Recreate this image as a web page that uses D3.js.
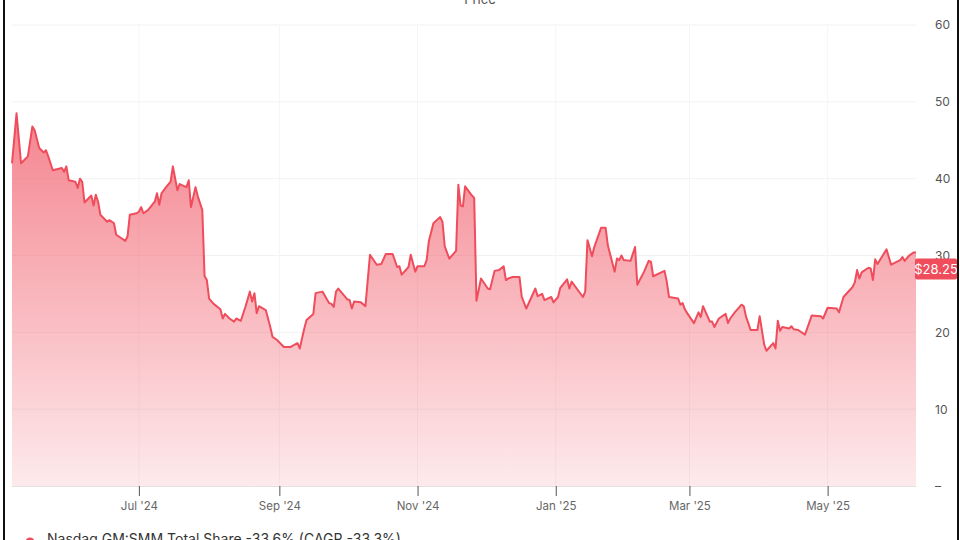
<!DOCTYPE html>
<html>
<head>
<meta charset="utf-8">
<script src="https://cdn.jsdelivr.net/npm/d3@7"></script>
<style>
  html, body { margin: 0; padding: 0; background: #fff; }
  svg { display: block; font-family: Inter, "Open Sans", sans-serif; }
</style>
</head>
<body>
<svg id="chart" width="960" height="540"></svg>
<script>
const dates = [
"2024-05-06","2024-05-08","2024-05-10","2024-05-13","2024-05-15","2024-05-16","2024-05-18","2024-05-20","2024-05-21","2024-05-22",
"2024-05-24","2024-05-28","2024-05-29","2024-05-30","2024-05-31","2024-06-03","2024-06-04","2024-06-05","2024-06-06","2024-06-07",
"2024-06-10","2024-06-11","2024-06-12","2024-06-13","2024-06-14","2024-06-17","2024-06-18","2024-06-20","2024-06-21","2024-06-25",
"2024-06-26","2024-06-27","2024-06-30","2024-07-01","2024-07-02","2024-07-03","2024-07-05","2024-07-08","2024-07-09","2024-07-10",
"2024-07-11","2024-07-13","2024-07-15","2024-07-16","2024-07-18","2024-07-19","2024-07-22","2024-07-23","2024-07-24","2024-07-26",
"2024-07-27","2024-07-29","2024-07-30","2024-07-31","2024-08-01","2024-08-03","2024-08-06","2024-08-07","2024-08-08","2024-08-10",
"2024-08-12","2024-08-13","2024-08-15","2024-08-17","2024-08-19","2024-08-20","2024-08-21","2024-08-22","2024-08-23","2024-08-26",
"2024-08-28","2024-08-29","2024-08-31","2024-09-03","2024-09-06","2024-09-09","2024-09-10","2024-09-12","2024-09-13","2024-09-16",
"2024-09-17","2024-09-20","2024-09-23","2024-09-24","2024-09-25","2024-09-26","2024-09-27","2024-10-01","2024-10-02","2024-10-03",
"2024-10-04","2024-10-07","2024-10-09","2024-10-11","2024-10-14","2024-10-16","2024-10-18","2024-10-21","2024-10-23","2024-10-24",
"2024-10-25","2024-10-28","2024-10-29","2024-10-31","2024-11-01","2024-11-04","2024-11-05","2024-11-06","2024-11-08","2024-11-11",
"2024-11-12","2024-11-13","2024-11-15","2024-11-18","2024-11-19","2024-11-20","2024-11-21","2024-11-22","2024-11-25","2024-11-26",
"2024-11-27","2024-11-29","2024-12-02","2024-12-03","2024-12-05","2024-12-07","2024-12-09","2024-12-10","2024-12-11","2024-12-13",
"2024-12-16","2024-12-17","2024-12-19","2024-12-21","2024-12-23","2024-12-24","2024-12-26","2024-12-27","2024-12-30","2024-12-31",
"2025-01-02","2025-01-03","2025-01-06","2025-01-07","2025-01-08","2025-01-13","2025-01-14","2025-01-15","2025-01-17","2025-01-18",
"2025-01-21","2025-01-23","2025-01-24","2025-01-27","2025-01-28","2025-01-29","2025-01-30","2025-01-31","2025-02-03","2025-02-05",
"2025-02-06","2025-02-09","2025-02-11","2025-02-12","2025-02-13","2025-02-18","2025-02-19","2025-02-20","2025-02-24","2025-02-25",
"2025-02-26","2025-02-27","2025-02-28","2025-03-03","2025-03-05","2025-03-06","2025-03-07","2025-03-10","2025-03-11","2025-03-12",
"2025-03-14","2025-03-17","2025-03-18","2025-03-19","2025-03-21","2025-03-24","2025-03-25","2025-03-26","2025-03-27","2025-03-28",
"2025-03-31","2025-04-01","2025-04-03","2025-04-04","2025-04-07","2025-04-08","2025-04-09","2025-04-10","2025-04-11","2025-04-14",
"2025-04-15","2025-04-16","2025-04-18","2025-04-21","2025-04-24","2025-04-28","2025-04-29","2025-05-01","2025-05-05","2025-05-06",
"2025-05-08","2025-05-12","2025-05-13","2025-05-14","2025-05-15","2025-05-16","2025-05-19","2025-05-20","2025-05-21","2025-05-22",
"2025-05-23","2025-05-27","2025-05-29","2025-06-02","2025-06-03","2025-06-04","2025-06-06","2025-06-08","2025-06-09"
];
const prices = [
42.0,48.5,42.0,42.9,46.8,46.3,44.0,43.4,43.7,42.9,
41.1,41.4,40.9,41.6,39.8,39.6,38.8,40.0,39.6,36.9,
37.8,36.5,37.9,37.0,35.3,34.4,34.6,34.2,32.7,31.9,
32.5,35.3,35.5,35.7,36.3,35.5,35.9,37.0,38.1,36.6,
38.1,38.9,39.6,41.6,38.5,39.3,38.9,39.8,36.3,38.9,
37.7,35.9,27.3,26.8,24.4,23.7,23.0,21.8,22.4,21.8,
21.4,21.8,21.5,23.3,25.3,24.0,25.1,22.5,23.4,22.9,
20.7,19.4,19.0,18.1,18.1,18.6,17.9,20.5,21.6,22.4,
25.1,25.3,23.8,23.7,23.3,25.3,25.7,24.3,24.2,23.1,
24.0,23.9,23.4,30.1,28.8,28.9,30.2,30.2,28.5,28.6,
27.5,28.5,30.1,27.9,28.6,28.6,29.4,31.9,34.2,35.0,
34.4,31.2,29.6,30.6,39.2,36.5,36.4,39.0,37.8,37.5,
24.1,27.0,25.7,25.6,28.0,28.1,28.6,26.8,27.0,27.2,
27.2,24.6,23.1,24.4,25.7,24.7,25.0,24.2,24.6,23.9,
24.6,25.8,26.9,25.7,26.6,24.6,25.3,32.0,29.9,31.1,
33.6,33.6,31.3,27.9,29.6,29.4,30.0,29.4,29.3,31.1,
26.2,27.9,29.3,29.2,27.3,28.0,26.6,24.6,24.4,23.6,
23.8,23.0,22.5,21.2,22.6,22.0,23.4,21.4,21.4,20.7,
21.8,22.4,21.2,21.8,22.6,23.6,23.4,22.0,21.2,20.3,
20.3,22.1,18.4,17.6,18.6,17.9,21.5,20.2,20.7,20.5,
20.8,20.4,20.3,19.7,22.2,22.1,21.8,23.2,23.1,22.6,
24.6,25.9,26.5,28.1,27.0,27.8,28.4,28.3,26.8,29.5,
28.9,30.8,28.8,29.4,29.8,29.3,30.0,30.4,30.4
];
const xTickDates = ["2024-07-01","2024-09-01","2024-11-01","2025-01-01","2025-03-01","2025-05-01"];
const xTickLabels = ["Jul '24","Sep '24","Nov '24","Jan '25","Mar '25","May '25"];
const yTicks = [0,10,20,30,40,50,60];
const yTickLabels = ["–","10","20","30","40","50","60"];
const lastPriceLabel = "$28.25";
const lastPriceValue = 28.25;
const titleText = "Price";
const legendText = "Nasdaq GM:SMM Total Share -33.6% (CAGR -33.3%)";

const parse = d3.timeParse("%Y-%m-%d");
const data = dates.map((d, i) => ({ date: parse(d), value: prices[i] }));

const svg = d3.select("#chart");
const plotLeft = 12, plotRight = 916, plotTop = 25, plotBottom = 486;

const x = d3.scaleTime()
  .domain([parse("2024-05-06"), parse("2025-06-09")])
  .range([plotLeft, plotRight]);
const y = d3.scaleLinear().domain([0, 60]).range([plotBottom, plotTop]);

// gradient
const defs = svg.append("defs");
const grad = defs.append("linearGradient")
  .attr("id", "areaGrad")
  .attr("gradientUnits", "userSpaceOnUse")
  .attr("x1", 0).attr("x2", 0)
  .attr("y1", y(50)).attr("y2", y(0));
grad.append("stop").attr("offset", "0%").attr("stop-color", "#f0505f").attr("stop-opacity", 0.72);
grad.append("stop").attr("offset", "100%").attr("stop-color", "#f0505f").attr("stop-opacity", 0.12);

// horizontal gridlines
svg.append("g").selectAll("line")
  .data(yTicks.filter(t => t > 0))
  .join("line")
  .attr("x1", plotLeft).attr("x2", plotRight)
  .attr("y1", d => y(d)).attr("y2", d => y(d))
  .attr("stroke", "#f2f2f2").attr("stroke-width", 1);

// vertical gridlines
svg.append("g").selectAll("line")
  .data(xTickDates.map(parse))
  .join("line")
  .attr("x1", d => x(d)).attr("x2", d => x(d))
  .attr("y1", plotTop).attr("y2", plotBottom)
  .attr("stroke", "#f5f5f5").attr("stroke-width", 1);

// area
const area = d3.area()
  .x(d => x(d.date))
  .y0(y(0))
  .y1(d => y(d.value));
svg.append("path").datum(data)
  .attr("d", area)
  .attr("fill", "url(#areaGrad)");

// line
const line = d3.line()
  .x(d => x(d.date))
  .y(d => y(d.value));
svg.append("path").datum(data)
  .attr("d", line)
  .attr("fill", "none")
  .attr("stroke", "#ef4d5c")
  .attr("stroke-width", 2)
  .attr("stroke-linejoin", "round");

// baseline
svg.append("line")
  .attr("x1", plotLeft).attr("x2", plotRight)
  .attr("y1", y(0) + 0.5).attr("y2", y(0) + 0.5)
  .attr("stroke", "#e6e0e1").attr("stroke-width", 1);

// x axis
const xAxis = d3.axisBottom(x)
  .tickValues(xTickDates.map(parse))
  .tickFormat((d, i) => xTickLabels[i])
  .tickSize(10)
  .tickPadding(6);
const gx = svg.append("g")
  .attr("transform", `translate(0,${y(0)})`)
  .call(xAxis);
gx.select(".domain").remove();
gx.selectAll(".tick line").attr("stroke", "#555").attr("stroke-width", 1);
gx.selectAll(".tick text")
  .attr("fill", "#666")
  .style("font-size", "11.5px")
  .style("font-family", "Inter, 'Open Sans', sans-serif");

// y axis labels (right)
const yAxis = d3.axisRight(y)
  .tickValues(yTicks)
  .tickFormat((d, i) => yTickLabels[i])
  .tickSize(0)
  .tickPadding(0);
const gy = svg.append("g")
  .attr("transform", `translate(935,0)`)
  .call(yAxis);
gy.select(".domain").remove();
gy.selectAll(".tick text")
  .attr("fill", "#555")
  .style("font-size", "12px")
  .style("font-family", "Inter, 'Open Sans', sans-serif");

// title
svg.append("text")
  .attr("x", 480).attr("y", 4)
  .attr("text-anchor", "middle")
  .attr("fill", "#555")
  .style("font-size", "13px")
  .text(titleText);

// last price label
const ly = y(lastPriceValue);
svg.append("rect")
  .attr("x", 915).attr("y", ly - 10.5)
  .attr("width", 42).attr("height", 21)
  .attr("rx", 2)
  .attr("fill", "#ef4d5c");
svg.append("text")
  .attr("x", 936).attr("y", ly)
  .attr("text-anchor", "middle")
  .attr("dominant-baseline", "central")
  .attr("fill", "#fff")
  .style("font-size", "13px")
  .text(lastPriceLabel);

// legend (partially cut off)
svg.append("circle")
  .attr("cx", 30).attr("cy", 542).attr("r", 4.5)
  .attr("fill", "#ef4d5c");
svg.append("text")
  .attr("x", 47).attr("y", 544)
  .attr("fill", "#333")
  .style("font-size", "14px")
  .text(legendText);

// frame borders
svg.append("line").attr("x1", 4).attr("x2", 4).attr("y1", 0).attr("y2", 540)
  .attr("stroke", "#111").attr("stroke-width", 2);
svg.append("line").attr("x1", 958).attr("x2", 958).attr("y1", 0).attr("y2", 540)
  .attr("stroke", "#111").attr("stroke-width", 2);
</script>
</body>
</html>
